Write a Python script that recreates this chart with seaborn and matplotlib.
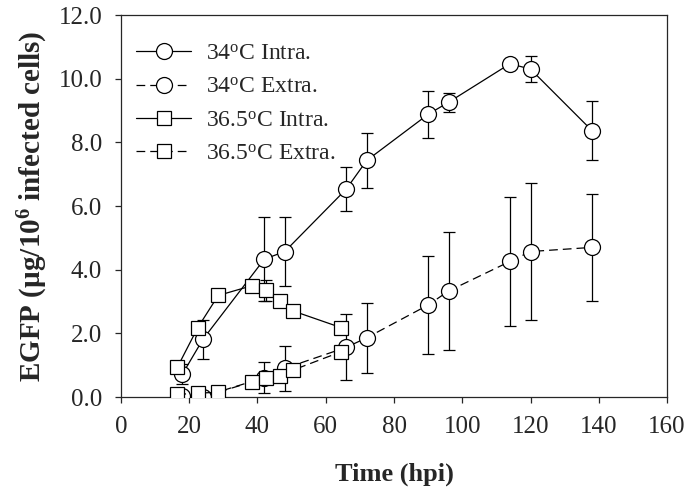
import numpy as np
import pandas as pd
import seaborn as sns
import matplotlib.pyplot as plt
from matplotlib.lines import Line2D

# hours post infection
TIME_34 = [18, 24, 42, 48, 66, 72, 90, 96, 114, 120, 138]
TIME_365 = [16.5, 22.5, 28.5, 38.5, 42.5, 46.5, 50.5, 64.5]

INTRA_34 = [0.72, 1.81, 4.33, 4.57, 6.53, 7.43, 8.88, 9.26, 10.47, 10.30, 8.37]
INTRA_34_ERR = [0.32, 0.62, 1.32, 1.08, 0.70, 0.85, 0.74, 0.30, 0.10, 0.40, 0.92]
EXTRA_34 = [0.02, 0.01, 0.61, 0.90, 1.56, 1.86, 2.89, 3.33, 4.26, 4.57, 4.70]
EXTRA_34_ERR = [0.05, 0.05, 0.49, 0.70, 1.04, 1.10, 1.54, 1.85, 2.03, 2.15, 1.68]

INTRA_365 = [0.93, 2.18, 3.19, 3.50, 3.36, 3.03, 2.70, 2.18]
INTRA_365_ERR = [0.10, 0.10, 0.10, 0.10, 0.33, 0.10, 0.10, 0.10]
EXTRA_365 = [0.08, 0.12, 0.15, 0.48, 0.60, 0.67, 0.85, 1.42]
EXTRA_365_ERR = [0.05, 0.05, 0.05, 0.05, 0.05, 0.05, 0.05, 0.10]

LABELS = [r"34$^{\mathrm{o}}$C Intra.", r"34$^{\mathrm{o}}$C Extra.",
          r"36.5$^{\mathrm{o}}$C Intra.", r"36.5$^{\mathrm{o}}$C Extra."]

sns.set_style("ticks")
plt.rcParams["font.family"] = ["Liberation Serif", "DejaVu Serif"]
plt.rcParams["mathtext.fontset"] = "custom"
plt.rcParams["mathtext.rm"] = "Liberation Serif"
plt.rcParams["mathtext.bf"] = "Liberation Serif:bold"
plt.rcParams["mathtext.it"] = "Liberation Serif:italic"

series = [
    (TIME_34, INTRA_34, INTRA_34_ERR, "o", 11.5, "-"),
    (TIME_34, EXTRA_34, EXTRA_34_ERR, "o", 11.5, (0, (7, 4))),
    (TIME_365, INTRA_365, INTRA_365_ERR, "s", 10, "-"),
    (TIME_365, EXTRA_365, EXTRA_365_ERR, "s", 10, (0, (7, 4))),
]

fig = plt.figure(figsize=(6.89, 4.97), dpi=100)
ax = fig.add_axes([0.1756, 0.2012, 0.7925, 0.7686])

handles = []
for (t, v, e, mk, ms, ls), label in zip(series, LABELS):
    df = pd.DataFrame({"Time": t, "EGFP": v})
    ax.errorbar(t, v, yerr=e, fmt="none", ecolor="black", elinewidth=0.9,
                capsize=4.5, capthick=0.9, zorder=2)
    sns.lineplot(data=df, x="Time", y="EGFP", ax=ax, color="black",
                 linestyle=ls, linewidth=0.9, marker=mk, markersize=ms,
                 markerfacecolor="white", markeredgecolor="black",
                 markeredgewidth=0.9, zorder=3, legend=False)
    handles.append(Line2D([], [], color="black", linestyle=ls, linewidth=0.9,
                          marker=mk, markersize=ms, markerfacecolor="white",
                          markeredgecolor="black", markeredgewidth=0.9,
                          label=label))

ax.set_xlim(0, 160)
ax.set_ylim(0, 12)
ax.set_xticks(np.arange(0, 161, 20))
ax.set_yticks(np.arange(0, 12.1, 2))
ax.set_yticklabels([f"{v:.1f}" for v in np.arange(0, 12.1, 2)])
ax.tick_params(direction="out", length=4.5, width=0.9, labelsize=18, pad=9)
for sp in ax.spines.values():
    sp.set_linewidth(0.9)

ax.set_xlabel("Time (hpi)", fontsize=19, fontweight="bold", labelpad=18)
ax.set_ylabel(r"EGFP (µg/10$^{\mathbf{6}}$ infected cells)", fontsize=21,
              fontweight="bold", labelpad=6)

ax.legend(handles=handles, loc="upper left", frameon=False, fontsize=17,
          handlelength=2.35, handletextpad=0.6, labelspacing=0.5,
          bbox_to_anchor=(0.01, 0.951), borderaxespad=0)

fig.savefig("out.png", dpi=100)
